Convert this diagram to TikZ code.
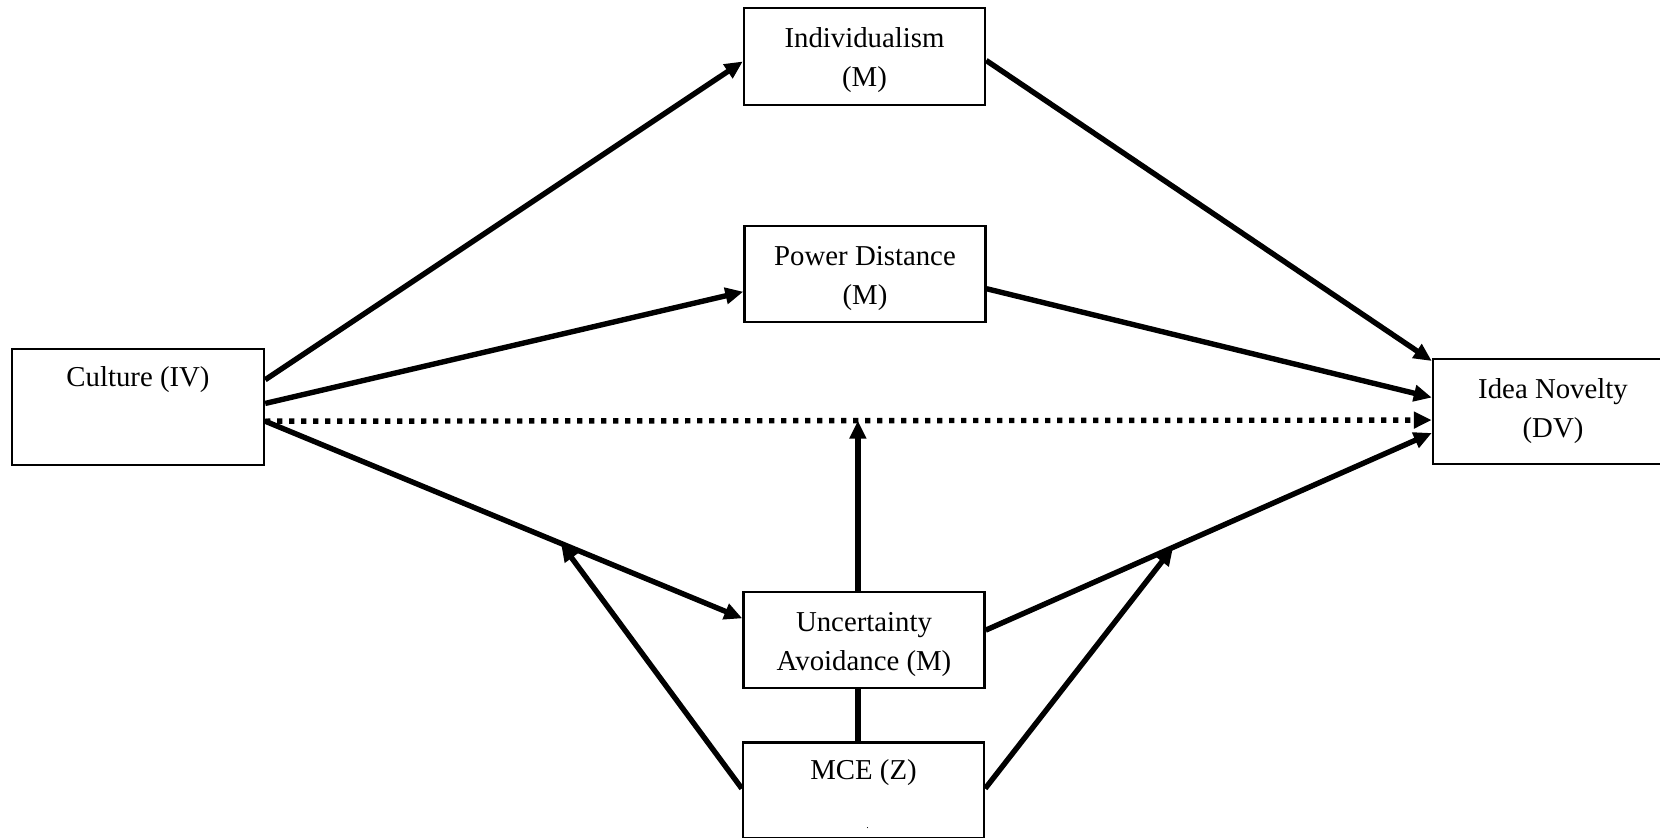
\documentclass[tikz,border=0pt]{standalone}
\usepackage{fontspec}
\setmainfont{Liberation Serif}
\usetikzlibrary{positioning}
\usetikzlibrary{arrows.meta}
\usetikzlibrary{calc}
\newcommand{\boxfont}{\fontsize{14.4}{19.5}\selectfont}
\newcommand{\topstrut}{\rule{0pt}{14pt}}
\tikzset{
  box/.style = {draw, line width=1.2pt, rectangle, minimum width=120.5pt,
    minimum height=48pt, align=center, inner sep=0pt, font=\boxfont},
  arr/.style = {line width=2.7pt, -{Triangle[length=9pt, width=8pt]}},
  plain/.style = {line width=2.7pt},
  dots/.style = {arr, dash pattern=on 2.6pt off 3.4pt},
}
\begin{document}
\begin{tikzpicture}[x=0.5pt, y=-0.5pt]
  \useasboundingbox (0,0) rectangle (1660,838);

  \node[box, minimum width=126pt, text height=19pt, text depth=39pt] at (138,407) (Cul) {Culture (IV)};

  \node[box, minimum height=48.5pt] at (864.5,56.5) (Ind) {\topstrut Individualism\\(M)};
  \node[box] at (865,274) (PD) {\topstrut Power Distance\\(M)};
  \node[box] at (864,640) (UA) {\topstrut Uncertainty\\Avoidance (M)};

  \node[box, text height=18.5pt, text depth=29pt,
    label={[font=\tiny, anchor=base, yshift=5.5pt, xshift=2pt]south:.}] at (863.5,790.5) (MCE) {MCE (Z)};

  \node[box, minimum width=120pt, minimum height=52.5pt] at (1553,411.5) (IN) {Idea Novelty\\(DV)};

  % paths from culture
  \draw[arr] ($(Cul.north east)!0.27!(Cul.south east)$) -- ($(Ind.north west)!0.55!(Ind.south west)$);
  \draw[arr] ($(Cul.north east)!0.47!(Cul.south east)$) -- ($(PD.north west)!0.68!(PD.south west)$);
  \draw[arr] ($(Cul.north east)!0.62!(Cul.south east)$) -- coordinate[pos=0.62] (CuUA) ($(UA.north west)!0.28!(UA.south west)$);

  % direct effect
  \draw[dots] ($(Cul.north east)!0.62!(Cul.south east)$) -- coordinate[pos=0.508] (Dir) ($(IN.north west)!0.58!(IN.south west)$);

  % paths to idea novelty
  \draw[arr] ($(Ind.north east)!0.54!(Ind.south east)$) -- ($(IN.north west)!0.03!(IN.south west)$);
  \draw[arr] ($(PD.north east)!0.65!(PD.south east)$) -- ($(IN.north west)!0.37!(IN.south west)$);
  \draw[arr] ($(UA.north east)!0.40!(UA.south east)$) -- coordinate[pos=0.42] (UAIN) ($(IN.north west)!0.70!(IN.south west)$);

  % moderator
  \draw[plain] (MCE.north -| Dir) -- (UA.south -| Dir);
  \draw[arr] (UA.north -| Dir) -- (Dir);
  \draw[arr] ($(MCE.north west)!0.48!(MCE.south west)$) -- (CuUA);
  \draw[arr] ($(MCE.north east)!0.48!(MCE.south east)$) -- (UAIN);

\end{tikzpicture}
\end{document}
